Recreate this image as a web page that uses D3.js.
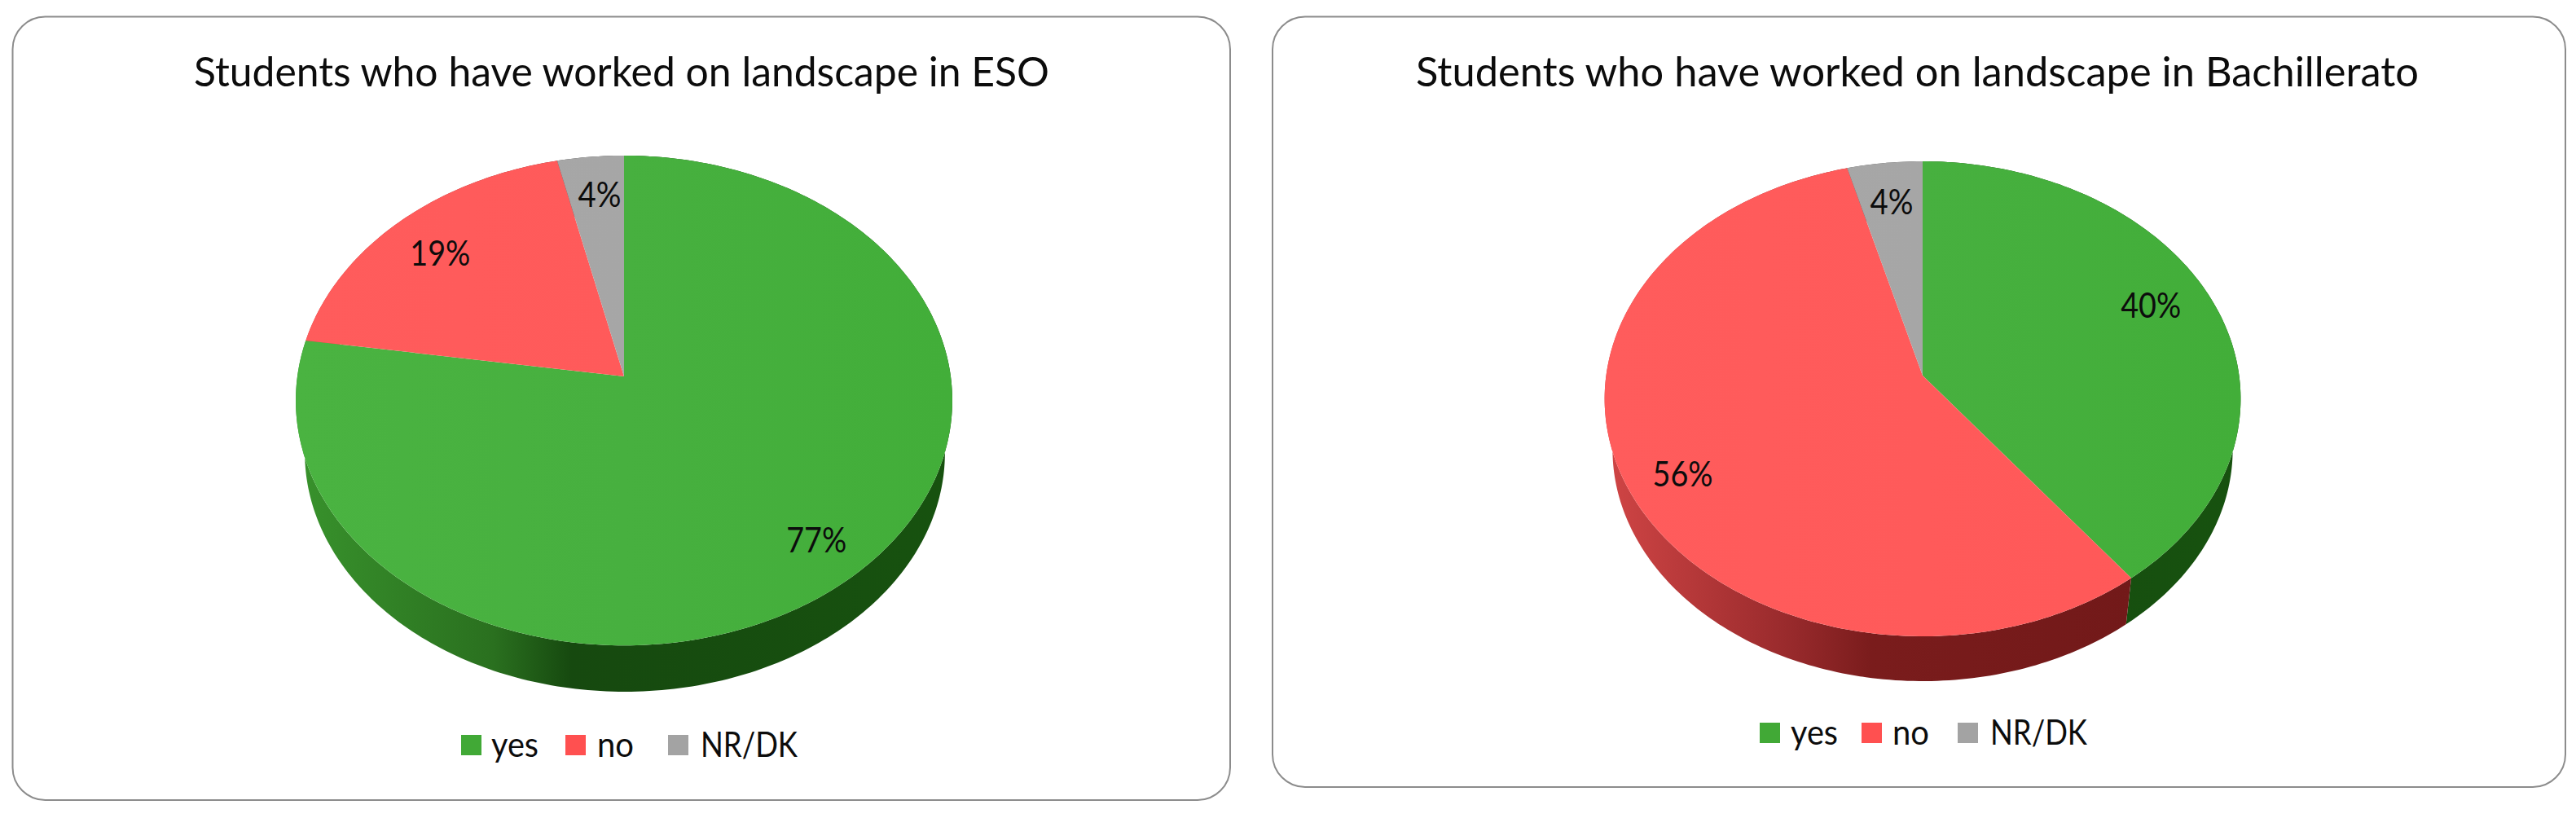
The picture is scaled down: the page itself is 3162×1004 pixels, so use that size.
<!DOCTYPE html>
<html>
<head>
<meta charset="utf-8">
<title>Students who have worked on landscape</title>
<script src="https://cdn.jsdelivr.net/npm/d3@7"></script>
<style>
	html, body {margin: 0; padding: 0; background: #fff;}
	svg {display: block;}
	text {font-family: Lato, "Open Sans", sans-serif; fill: #0c0c0c;}
</style>
</head>
<body>
<script>
const WIDTH = 3162;
const HEIGHT = 1004;

const categories = ['yes', 'no', 'NR/DK'];

const eso_values = [77.4, 19.0, 3.6];
const bachillerato_values = [39.6, 56.2, 4.2];

const eso_title = 'Students who have worked on landscape in ESO';
const bachillerato_title = 'Students who have worked on landscape in Bachillerato';

const face_colors = {
	yes: ['#4ab341', '#47b03f', '#42ae39'],
	no: ['#ff5c5c', '#ff5a5a', '#ff5858'],
	'NR/DK': ['#a8a8a8', '#a6a6a6', '#a4a4a4']
};

const side_colors = {
	yes: ['#38922c', '#2a701f', '#16490f', '#17520f'],
	no: ['#d04545', '#96292b', '#7a1c1c', '#6f1818'],
	'NR/DK': ['#8a8a8a', '#6a6a6a', '#4c4c4c', '#444444']
};

const legend_colors = {yes: '#41a936', no: '#ff5050', 'NR/DK': '#a3a3a3'};

const SIDE_STOPS = [0, 0.3, 0.42, 1];
const ARC_STEP = Math.PI / 180;

const PIES = [
	{
		id: 'eso',
		values: eso_values,
		title: eso_title,
		frame: {x: 15.5, y: 20.5, width: 1494.5, height: 961.5},
		title_box: {x: 238, y: 106, width: 1050},
		apex: {x: 766, y: 462},
		radius: {x: 401, y: 297.7},
		tilt: 0.0984,
		side: {scale: 0.975, drop: 65, shift: 1},
		label_at: [
			{r: 0.84, dx: 2, dy: 0},
			{r: 0.79, dx: -5, dy: 2},
			{r: 0.81, dx: 4, dy: 0}
		],
		legend: {y: 902, swatches: [566, 694, 820], texts: [603, 733, 860]}
	},
	{
		id: 'bachillerato',
		values: bachillerato_values,
		title: bachillerato_title,
		frame: {x: 1562, y: 20.5, width: 1587, height: 945.5},
		title_box: {x: 1738, y: 106, width: 1231},
		apex: {x: 2360, y: 461},
		radius: {x: 388.5, y: 288.7},
		tilt: 0.0978,
		side: {scale: 0.975, drop: 63, shift: 0},
		label_at: [
			{r: 0.78, dx: 0, dy: -14},
			{r: 0.81, dx: -2, dy: 15},
			{r: 0.8, dx: 0, dy: 0}
		],
		legend: {y: 887, swatches: [2160, 2285, 2403], texts: [2198, 2323, 2443]}
	}
];

const LEGEND_TEXT_WIDTH = {yes: 58, no: 45, 'NR/DK': 119};
const LABEL_WIDTH = {1: 53, 2: 74};

const svg = d3.select('body')
	.append('svg')
	.attr('width', WIDTH)
	.attr('height', HEIGHT);

const defs = svg.append('defs');

const pie_layout = d3.pie()
	.sort(null)
	.value(d => d);

const line_generator = d3.line()
	.x(d => d[0])
	.y(d => d[1]);

/**
 * Perspective projection of a point of the unit disc, which is why the apex is not the middle of the ellipse.
 */
function project(pie, angle, r, is_bottom) {
	const u = r * Math.cos(angle);
	const v = r * Math.sin(angle);
	const w = 1 + pie.tilt * u;
	const scale = is_bottom ? pie.side.scale : 1;
	const drop = is_bottom ? pie.side.drop : 0;
	const shift = is_bottom ? pie.side.shift : 0;

	return [
		pie.apex.x + shift + scale * pie.radius.x * v / w,
		pie.apex.y + drop - scale * pie.radius.y * u / w
	];
}

function arcPoints(pie, slice, is_bottom) {
	return d3.range(slice.startAngle, slice.endAngle, ARC_STEP)
		.concat(slice.endAngle)
		.map(angle => project(pie, angle, 1, is_bottom));
}

function addGradient(id, pie, colors, offsets) {
	const gradient = defs.append('linearGradient')
		.attr('id', id)
		.attr('gradientUnits', 'userSpaceOnUse')
		.attr('x1', pie.apex.x - pie.radius.x)
		.attr('x2', pie.apex.x + pie.radius.x)
		.attr('y1', 0)
		.attr('y2', 0);

	gradient.selectAll('stop')
		.data(colors)
		.join('stop')
		.attr('offset', (d, i) => offsets[i])
		.attr('stop-color', d => d);
}

function drawPie(pie) {
	const group = svg.append('g').attr('class', `pie-${pie.id}`);
	const slices = pie_layout(pie.values);

	group.append('rect')
		.attr('x', pie.frame.x)
		.attr('y', pie.frame.y)
		.attr('width', pie.frame.width)
		.attr('height', pie.frame.height)
		.attr('rx', 40)
		.attr('fill', '#fff')
		.attr('stroke', '#8c8c8c')
		.attr('stroke-width', 2);

	group.append('text')
		.attr('x', pie.title_box.x)
		.attr('y', pie.title_box.y)
		.attr('font-size', 50)
		.attr('textLength', pie.title_box.width)
		.attr('lengthAdjust', 'spacingAndGlyphs')
		.text(pie.title);

	categories.forEach((category, i) => {
		addGradient(`side-${pie.id}-${i}`, pie, side_colors[category], SIDE_STOPS);
		addGradient(`face-${pie.id}-${i}`, pie, face_colors[category], [0, 0.5, 1]);
	});

	group.selectAll('.side')
		.data(slices)
		.join('path')
		.attr('class', 'side')
		.attr('fill', d => `url(#side-${pie.id}-${d.index})`)
		.attr('d', d => line_generator(arcPoints(pie, d, false).concat(arcPoints(pie, d, true).reverse())) + 'Z');

	group.selectAll('.face')
		.data(slices)
		.join('path')
		.attr('class', 'face')
		.attr('fill', d => `url(#face-${pie.id}-${d.index})`)
		.attr('d', d => line_generator([[pie.apex.x, pie.apex.y]].concat(arcPoints(pie, d, false))) + 'Z');

	group.selectAll('.value-label')
		.data(slices)
		.join('text')
		.attr('class', 'value-label')
		.each(function(d, i) {
			const at = pie.label_at[i];
			const [x, y] = project(pie, (d.startAngle + d.endAngle) / 2, at.r, false);
			const label = `${Math.round(d.value)}%`;

			d3.select(this)
				.attr('x', x + at.dx - LABEL_WIDTH[label.length - 1] / 2)
				.attr('y', y + at.dy + 14)
				.attr('font-size', 42)
				.attr('textLength', LABEL_WIDTH[label.length - 1])
				.attr('lengthAdjust', 'spacingAndGlyphs')
				.text(label);
		});

	const legend_items = group.selectAll('.legend-item')
		.data(categories)
		.join('g')
		.attr('class', 'legend-item');

	legend_items.append('rect')
		.attr('x', (d, i) => pie.legend.swatches[i])
		.attr('y', pie.legend.y)
		.attr('width', 25)
		.attr('height', 25)
		.attr('fill', d => legend_colors[d]);

	legend_items.append('text')
		.attr('x', (d, i) => pie.legend.texts[i])
		.attr('y', pie.legend.y + 27)
		.attr('font-size', 42)
		.attr('textLength', d => LEGEND_TEXT_WIDTH[d])
		.attr('lengthAdjust', 'spacingAndGlyphs')
		.text(d => d);
}

PIES.forEach(drawPie);
</script>
</body>
</html>
